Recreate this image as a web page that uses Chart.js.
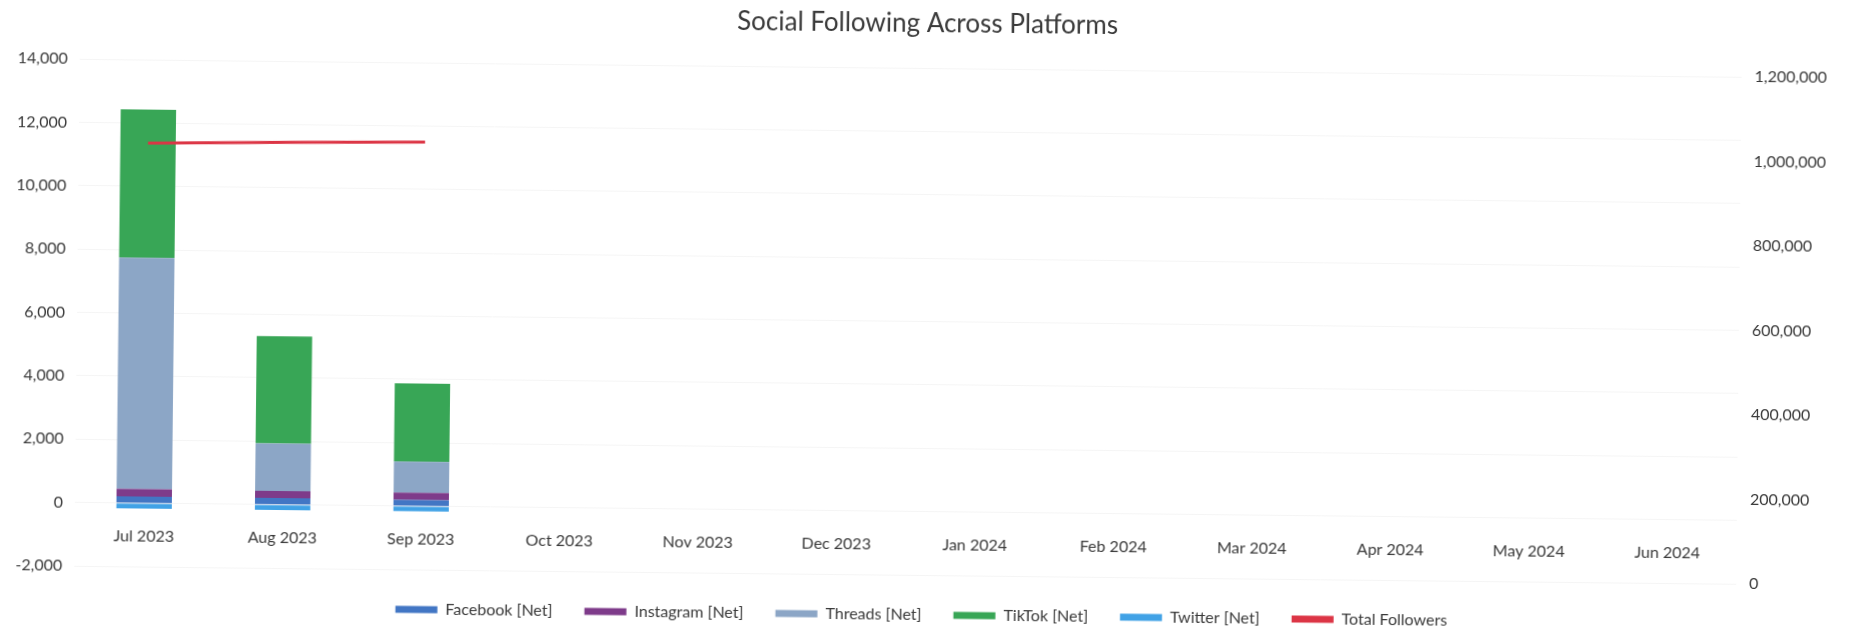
<!DOCTYPE html>
<html>
<head>
<meta charset="utf-8">
<title>Social Following Across Platforms</title>
<script src="https://cdn.jsdelivr.net/npm/chart.js@4/dist/chart.umd.min.js"></script>
<style>
    html, body { margin: 0; padding: 0; background: #fff; overflow: hidden; }
    #chart { display: block; transform: rotate(0.62deg); }
</style>
</head>
<body>
<canvas id="chart" width="1849" height="628"></canvas>
<script>
const months = ["Jul 2023", "Aug 2023", "Sep 2023", "Oct 2023", "Nov 2023", "Dec 2023",
    "Jan 2024", "Feb 2024", "Mar 2024", "Apr 2024", "May 2024", "Jun 2024"];

// net change per month, only first quarter filled in so far
const facebook = [210, 210, 195];
const instagram = [240, 220, 230];
const threads = [7300, 1500, 980];
const tiktok = [4680, 3390, 2470];
const twitter = [-170, -170, -160];

const totalFollowers = [1003000, 1008000, 1012000];

const font = "Lato, 'Open Sans', sans-serif";
const textColor = "#3a3a3a";

function barSet(label, data, color) {
    return {
        type: "bar",
        label: label,
        data: data,
        backgroundColor: color,
        borderWidth: 0,
        yAxisID: "y",
        order: 1
    };
}

function formatNumber(v) {
    return v.toLocaleString("en-US");
}

const ctx = document.getElementById("chart");

const chart = new Chart(ctx, {
    data: {
        labels: months,
        datasets: [
            barSet("Facebook [Net]", facebook, "#4276c4"),
            barSet("Instagram [Net]", instagram, "#7e3b8a"),
            barSet("Threads [Net]", threads, "#8ca6c6"),
            barSet("TikTok [Net]", tiktok, "#38a656"),
            barSet("Twitter [Net]", twitter, "#41a2e6"),
            {
                type: "line",
                label: "Total Followers",
                data: totalFollowers,
                borderColor: "#dc3545",
                backgroundColor: "#dc3545",
                borderWidth: 3,
                pointRadius: 0,
                tension: 0,
                yAxisID: "y2",
                order: -1
            }
        ]
    },
    options: {
        responsive: false,
        animation: false,
        devicePixelRatio: 1,
        layout: { padding: { top: 0, bottom: -5, left: 0, right: 0 } },
        datasets: {
            bar: { categoryPercentage: 1, barPercentage: 0.4 }
        },
        plugins: {
            title: {
                display: true,
                text: "Social Following Across Platforms",
                color: textColor,
                font: { family: font, size: 26, weight: "normal" },
                padding: { top: 8, bottom: 29 }
            },
            legend: {
                position: "bottom",
                labels: {
                    color: textColor,
                    font: { family: font, size: 16 },
                    boxWidth: 42,
                    boxHeight: 7,
                    padding: 32,
                    generateLabels: function (c) {
                        const items = Chart.defaults.plugins.legend.labels.generateLabels(c);
                        items.forEach(i => { i.lineWidth = 0; });
                        return items;
                    },
                    sort: (a, b) => a.datasetIndex - b.datasetIndex
                }
            },
            tooltip: { enabled: false }
        },
        scales: {
            x: {
                stacked: true,
                position: { y: 0 },
                grid: { display: false },
                border: { display: false },
                ticks: {
                    color: textColor,
                    font: { family: font, size: 16 },
                    padding: 16,
                    maxRotation: 0,
                    autoSkip: false
                }
            },
            y: {
                stacked: true,
                position: "left",
                min: -2000,
                max: 14000,
                grid: { color: "#f5f5f5", drawTicks: false },
                border: { display: false },
                ticks: {
                    stepSize: 2000,
                    padding: 12,
                    color: textColor,
                    font: { family: font, size: 16 },
                    callback: formatNumber
                },
                afterFit: function (scale) { scale.width = 77; }
            },
            y2: {
                position: "right",
                min: 0,
                max: 1200000,
                grid: { display: false, drawTicks: false },
                border: { display: false },
                ticks: {
                    stepSize: 200000,
                    padding: 13,
                    color: textColor,
                    font: { family: font, size: 16 },
                    callback: formatNumber
                },
                afterFit: function (scale) { scale.width = 110; }
            }
        }
    }
});
</script>
</body>
</html>
